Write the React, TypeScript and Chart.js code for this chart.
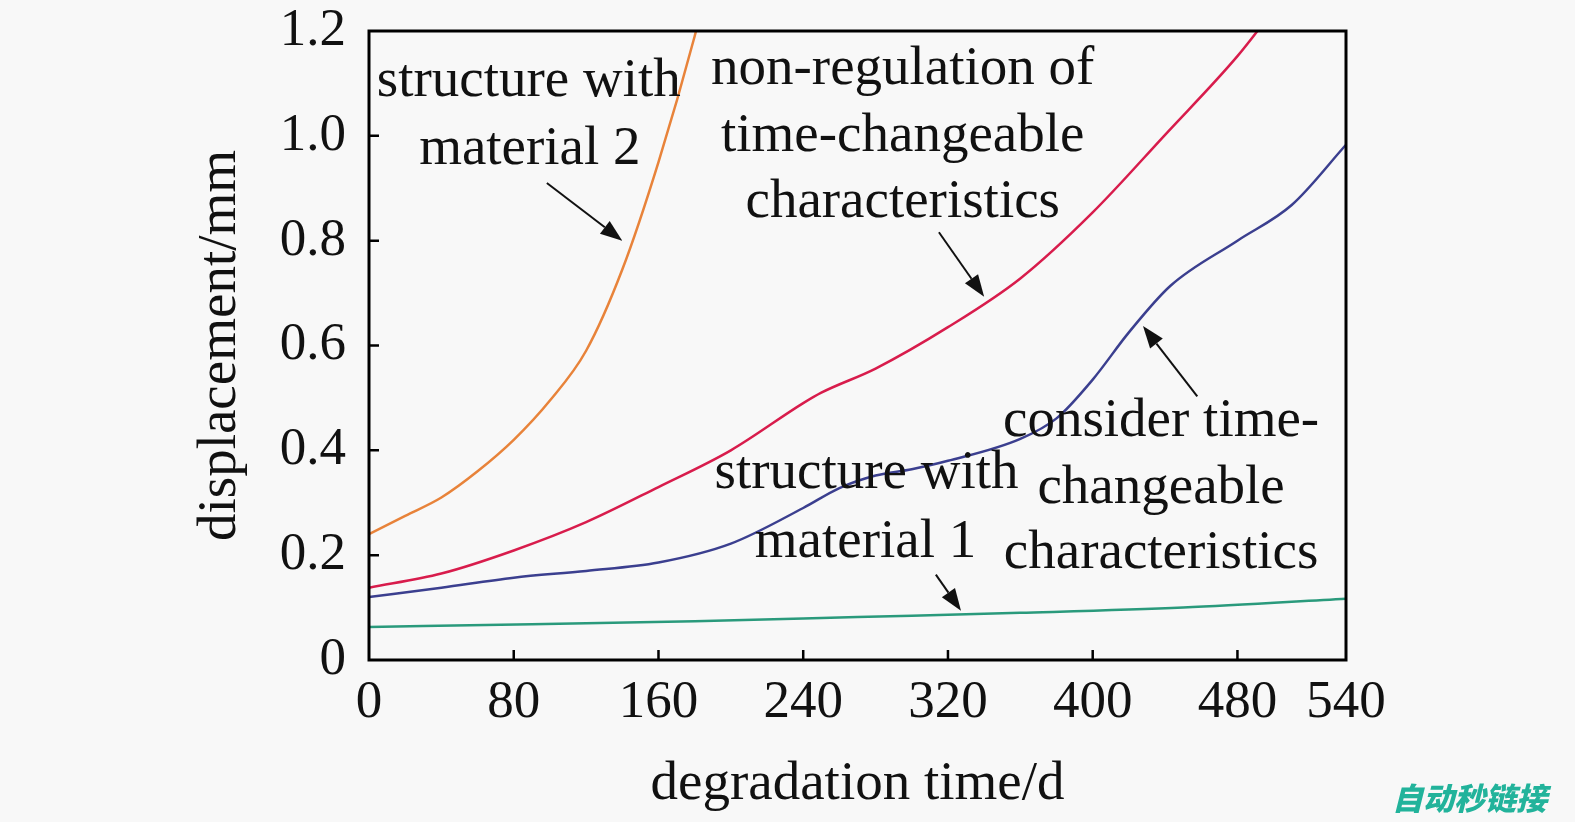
import React, { useEffect, useRef } from "react";
import { Chart, registerables } from "chart.js";

Chart.register(...registerables);

// ---- data ----
const material2Days = [0, 20, 40, 60, 80, 100, 120, 140, 160, 180, 190];
const material2Disp = [0.24, 0.275, 0.31, 0.36, 0.42, 0.495, 0.59, 0.745, 0.95, 1.19, 1.33];

const nonRegDays = [0, 40, 80, 120, 160, 200, 240, 250, 280, 320, 360, 400, 440, 480, 500];
const nonRegDisp = [0.138, 0.165, 0.209, 0.263, 0.33, 0.4, 0.49, 0.51, 0.556, 0.635, 0.728, 0.854, 1.002, 1.152, 1.24];

const considerDays = [0, 40, 80, 120, 160, 200, 240, 260, 280, 300, 320, 360, 380, 400, 420, 443, 480, 510, 540];
const considerDisp = [0.12, 0.138, 0.157, 0.17, 0.186, 0.222, 0.29, 0.328, 0.352, 0.364, 0.38, 0.422, 0.461, 0.535, 0.625, 0.714, 0.8, 0.868, 0.983];

const material1Days = [0, 90, 180, 270, 360, 450, 540];
const material1Disp = [0.063, 0.068, 0.074, 0.082, 0.09, 0.1, 0.117];

const xTicks = [0, 80, 160, 240, 320, 400, 480, 540];
const yTicks = [0, 0.2, 0.4, 0.6, 0.8, 1.0, 1.2];

const xTitle = "degradation time/d";
const yTitle = "displacement/mm";

// annotation lines: [text, xDay, yMm]
const labelTexts = [
  "structure with", "material 2",
  "non-regulation of", "time-changeable", "characteristics",
  "structure with", "material 1",
  "consider time-", "changeable", "characteristics",
];
const labelX = [88.3, 88.9, 295, 295, 295, 275, 274.4, 437.8, 437.8, 437.8];
const labelY = [1.104, 0.973, 1.127, 0.998, 0.872, 0.356, 0.2246, 0.455, 0.328, 0.2035];

// arrows: start (x,y) -> end (x,y)
const arrowX0 = [98.3, 315, 457.8, 313.3];
const arrowY0 = [0.91, 0.816, 0.503, 0.163];
const arrowX1 = [140, 340, 427.8, 327.2];
const arrowY1 = [0.8, 0.693, 0.637, 0.094];

const watermark = "自动秒链接";

const SERIF = "'Liberation Serif', 'Times New Roman', serif";

function pts(xs: number[], ys: number[]) {
  return xs.map((x, i) => ({ x, y: ys[i] }));
}

const decorPlugin = {
  id: "decor",
  beforeDraw(chart: any) {
    const ctx = chart.ctx;
    ctx.save();
    ctx.fillStyle = "#f8f8f8";
    ctx.fillRect(0, 0, chart.width, chart.height);
    ctx.restore();
  },
  afterDraw(chart: any) {
    const ctx = chart.ctx;
    const { left, right, top, bottom } = chart.chartArea;
    const xs = chart.scales.x;
    const ys = chart.scales.y;
    ctx.save();
    // box
    ctx.strokeStyle = "#000";
    ctx.lineWidth = 3;
    ctx.strokeRect(left, top, right - left, bottom - top);
    // inward ticks
    ctx.lineWidth = 2.5;
    ctx.beginPath();
    xTicks.forEach((v) => {
      if (v === 0 || v === 540) return;
      const px = xs.getPixelForValue(v);
      ctx.moveTo(px, bottom);
      ctx.lineTo(px, bottom - 10);
    });
    yTicks.forEach((v) => {
      if (v === 0 || v === 1.2) return;
      const py = ys.getPixelForValue(v);
      ctx.moveTo(left, py);
      ctx.lineTo(left + 10, py);
    });
    ctx.stroke();
    // labels
    ctx.fillStyle = "#111";
    ctx.font = `55px ${SERIF}`;
    ctx.textAlign = "center";
    ctx.textBaseline = "middle";
    labelTexts.forEach((t, i) => {
      ctx.fillText(t, xs.getPixelForValue(labelX[i]), ys.getPixelForValue(labelY[i]));
    });
    // arrows
    arrowX0.forEach((_, i) => {
      const x0 = xs.getPixelForValue(arrowX0[i]);
      const y0 = ys.getPixelForValue(arrowY0[i]);
      const x1 = xs.getPixelForValue(arrowX1[i]);
      const y1 = ys.getPixelForValue(arrowY1[i]);
      const ang = Math.atan2(y1 - y0, x1 - x0);
      const hl = 22, hw = 8;
      const bx = x1 - hl * Math.cos(ang);
      const by = y1 - hl * Math.sin(ang);
      ctx.strokeStyle = "#111";
      ctx.lineWidth = 2;
      ctx.beginPath();
      ctx.moveTo(x0, y0);
      ctx.lineTo(bx, by);
      ctx.stroke();
      ctx.fillStyle = "#111";
      ctx.beginPath();
      ctx.moveTo(x1, y1);
      ctx.lineTo(bx + hw * Math.sin(ang), by - hw * Math.cos(ang));
      ctx.lineTo(bx - hw * Math.sin(ang), by + hw * Math.cos(ang));
      ctx.closePath();
      ctx.fill();
    });
    // watermark
    ctx.fillStyle = "#22b39b";
    ctx.font = `italic 900 31px 'Noto Sans CJK SC', sans-serif`;
    ctx.textAlign = "left";
    ctx.textBaseline = "middle";
    ctx.fillText(watermark, 1392, 798);
    ctx.restore();
  },
};

export default function App() {
  const ref = useRef<HTMLCanvasElement>(null);
  useEffect(() => {
    document.body.style.margin = "0";
    const lineDs = (label: string, data: any, color: string) => ({
      label,
      data,
      borderColor: color,
      backgroundColor: color,
      borderWidth: 2.5,
      pointRadius: 0,
      cubicInterpolationMode: "monotone" as const,
      fill: false,
    });
    const chart = new Chart(ref.current!, {
      type: "line",
      data: {
        datasets: [
          lineDs("structure with material 2", pts(material2Days, material2Disp), "#e8833a"),
          lineDs("non-regulation", pts(nonRegDays, nonRegDisp), "#d81c4c"),
          lineDs("consider", pts(considerDays, considerDisp), "#3b3f8f"),
          lineDs("structure with material 1", pts(material1Days, material1Disp), "#2a9a7c"),
        ],
      },
      options: {
        responsive: false,
        animation: false,
        events: [],
        layout: { padding: { left: 188, right: 229, top: 31, bottom: 4 } },
        plugins: { legend: { display: false }, tooltip: { enabled: false } },
        scales: {
          x: {
            type: "linear",
            min: 0,
            max: 540,
            afterBuildTicks: (s: any) => {
              s.ticks = xTicks.map((v) => ({ value: v }));
            },
            afterFit: (s: any) => {
              s.height = 158;
            },
            grid: { display: false, drawTicks: false },
            border: { display: false },
            ticks: {
              color: "#111",
              font: { family: SERIF, size: 53 },
              padding: 11,
              maxRotation: 0,
              autoSkip: false,
            },
            title: {
              display: true,
              text: xTitle,
              color: "#111",
              font: { family: SERIF, size: 55 },
              padding: 0,
            },
          },
          y: {
            type: "linear",
            min: 0,
            max: 1.2,
            afterBuildTicks: (s: any) => {
              s.ticks = yTicks.map((v) => ({ value: v }));
            },
            afterFit: (s: any) => {
              s.width = 181;
              s.paddingTop = 0;
              s.paddingBottom = 0;
            },
            grid: { display: false, drawTicks: false },
            border: { display: false },
            ticks: {
              color: "#111",
              font: { family: SERIF, size: 53, lineHeight: 0.4 },
              padding: 23,
              callback: (v: any) => (Number(v) === 0 ? "0" : Number(v).toFixed(1)),
            },
            title: {
              display: true,
              text: yTitle,
              color: "#111",
              font: { family: SERIF, size: 55 },
              padding: 0,
            },
          },
        },
      },
      plugins: [decorPlugin],
    });
    return () => chart.destroy();
  }, []);
  return (
    <div style={{ position: "fixed", left: 0, top: 0, width: 1575, height: 822 }}>
      <canvas ref={ref} width={1575} height={822} style={{ display: "block" }} />
    </div>
  );
}
